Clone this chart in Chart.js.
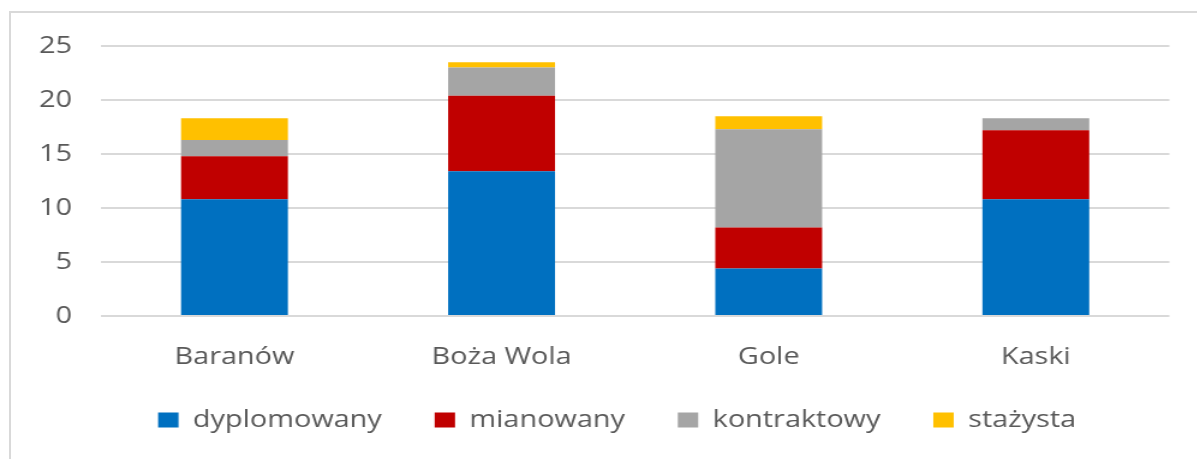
<!DOCTYPE html>
<html>
<head>
<meta charset="utf-8">
<script src="https://cdn.jsdelivr.net/npm/chart.js@4"></script>
<style>
  html, body { margin: 0; padding: 0; background: #fff; overflow: hidden; }
  #frame {
    position: absolute; left: 9px; top: 11px;
    width: 1300px; height: 520px;
    border: 2px solid #d9d9d9; box-sizing: border-box;
  }
  /* the reference picture is stretched sideways, so the chart is too */
  #wrap {
    position: absolute; left: 0; top: 0;
    width: 997.5px; height: 459px;
    transform: scaleX(1.2); transform-origin: 0 0;
  }
</style>
</head>
<body>
<div id="frame"></div>
<div id="wrap"><canvas id="chart"></canvas></div>
<script>
// Data
const categories = ['Baranów', 'Boża Wola', 'Gole', 'Kaski'];
const dyplomowany = [10.8, 13.4, 4.4, 10.8];
const mianowany = [4.0, 7.0, 3.8, 6.4];
const kontraktowy = [1.5, 2.6, 9.1, 1.1];
const stazysta = [2.0, 0.5, 1.2, 0];
const yTicks = [0, 5, 10, 15, 20, 25];

const textColor = '#595959';
const font = { family: "'Open Sans', sans-serif", size: 24 };

// legend keeps wide gaps between items but takes less height,
// and sits a bit right of centre like in the original
const legendTweak = {
    id: 'legendTweak',
    beforeUpdate(chart) {
        const legend = chart.legend;
        if (!legend || legend._fitPatched) return;
        const fit = legend.fit;
        legend.fit = function () {
            fit.call(this);
            this.height = 95;
        };
        legend._fitPatched = true;
    },
    afterLayout(chart) {
        const legend = chart.legend;
        if (!legend) return;
        legend.left += 27;
        legend.right += 27;
    }
};

const ctx = document.getElementById('chart').getContext('2d');

new Chart(ctx, {
    type: 'bar',
    data: {
        labels: categories,
        datasets: [
            { label: 'dyplomowany', data: dyplomowany, backgroundColor: '#0070C0' },
            { label: 'mianowany', data: mianowany, backgroundColor: '#C00000' },
            { label: 'kontraktowy', data: kontraktowy, backgroundColor: '#A5A5A5' },
            { label: 'stażysta', data: stazysta, backgroundColor: '#FFC000' }
        ]
    },
    options: {
        responsive: true,
        maintainAspectRatio: false,
        animation: false,
        datasets: {
            bar: { categoryPercentage: 1, barPercentage: 0.4 }
        },
        layout: { padding: { top: 46, right: 24, left: 0, bottom: 0 } },
        plugins: {
            tooltip: { enabled: false },
            legend: {
                position: 'bottom',
                labels: {
                    color: textColor,
                    font: font,
                    boxWidth: 17,
                    boxHeight: 15,
                    padding: 44
                }
            }
        },
        scales: {
            x: {
                stacked: true,
                afterFit: (scale) => { scale.height = 48; },
                grid: { display: false, drawTicks: false },
                border: { display: false },
                ticks: { color: textColor, font: font, padding: 27 }
            },
            y: {
                stacked: true,
                min: 0,
                max: 25,
                afterFit: (scale) => { scale.width = 84; },
                afterBuildTicks: (scale) => { scale.ticks = yTicks.map(v => ({ value: v })); },
                grid: { color: '#d9d9d9', lineWidth: 2, drawTicks: false },
                border: { display: false },
                ticks: { color: textColor, font: font, padding: 24 }
            }
        }
    },
    plugins: [legendTweak]
});
</script>
</body>
</html>
